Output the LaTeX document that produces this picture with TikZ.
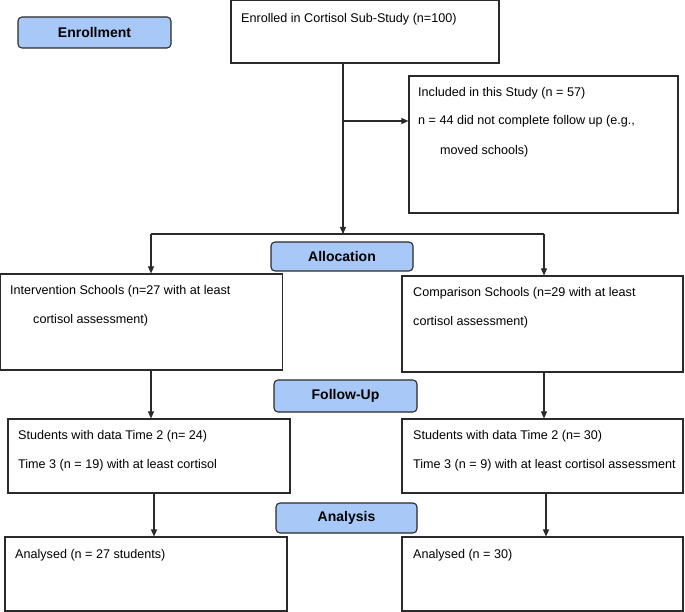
\documentclass[tikz,border=0pt]{standalone}
\usepackage{fontspec}
\setmainfont{Liberation Sans}
\usetikzlibrary{arrows.meta}
\definecolor{lblue}{HTML}{A8C8F8}
\definecolor{edge}{HTML}{2A2A2A}
\begin{document}
\begin{tikzpicture}[x=1pt,y=-1pt,
  box/.style={draw=edge,line width=1.1pt,rectangle,inner sep=0pt},
  stage/.style={draw=edge,line width=1.1pt,fill=lblue,rounded corners=4pt,inner sep=0pt,
     font=\fontsize{14}{16}\selectfont\bfseries},
  txt/.style={anchor=west,inner sep=0pt,font=\fontsize{12.6}{14}\selectfont,text height=9pt,text depth=2.5pt},
  arr/.style={draw=edge,line width=1.1pt,-{Triangle[length=7pt,width=6pt]}},
  ln/.style={draw=edge,line width=1.1pt}]
\useasboundingbox (0,0) rectangle (685,612);

% boxes
\node[box,minimum width=268pt,minimum height=63pt] (top) at (365,31.5) {};
\node[box,minimum width=269pt,minimum height=137pt] (right1) at (543.5,144.5) {};
\node[box,minimum width=282pt,minimum height=96pt] (left2) at (141.5,322) {};
\node[box,minimum width=281pt,minimum height=96pt] (right2) at (542.5,324) {};
\node[box,minimum width=282pt,minimum height=74pt] (left3) at (149,456) {};
\node[box,minimum width=281pt,minimum height=74pt] (right3) at (542.5,456) {};
\node[box,minimum width=282pt,minimum height=74pt] (left4) at (146,574) {};
\node[box,minimum width=281pt,minimum height=74pt] (right4) at (542.5,574) {};

% stage labels
\node[stage,minimum width=153pt,minimum height=31pt] (enroll) at (94.5,32.5) {Enrollment};
\node[stage,minimum width=142pt,minimum height=29pt] (alloc) at (342,256.5) {Allocation};
\node[stage,minimum width=143pt,minimum height=32pt] (follow) at (345.5,396) {Follow-Up};
\node[stage,minimum width=141pt,minimum height=30pt] (analysis) at (346.5,518) {Analysis};

% texts
\node[txt] (t1) at (241,19) {Enrolled in Cortisol Sub-Study (n=100)};
\node[txt] (t2) at (418,93) {Included in this Study (n = 57)};
\node[txt] (t3) at (418,121) {n = 44 did not complete follow up (e.g.,};
\node[txt] (t4) at (440,151) {moved schools)};
\node[txt] (t5) at (10,291) {Intervention Schools (n=27 with at least};
\node[txt] (t6) at (33,320) {cortisol assessment)};
\node[txt] (t7) at (413,293) {Comparison Schools (n=29 with at least};
\node[txt] (t8) at (413,322) {cortisol assessment)};
\node[txt] (t9) at (18,436) {Students with data Time 2 (n= 24)};
\node[txt] (t10) at (18,465) {Time 3 (n = 19) with at least cortisol};
\node[txt] (t11) at (413,436) {Students with data Time 2 (n= 30)};
\node[txt] (t12) at (413,465) {Time 3 (n = 9) with at least cortisol assessment};
\node[txt] (t13) at (15,555) {Analysed (n = 27 students)};
\node[txt] (t14) at (413,555) {Analysed (n = 30)};

% connector coordinates
\coordinate (split) at (343,234);
\coordinate (bl) at (151,234);
\coordinate (br) at (544,234);
\coordinate (side) at (343,121);
\coordinate (l2) at (151,0);
\coordinate (r2) at (544,0);
\coordinate (l3) at (154,0);
\coordinate (r3) at (546,0);

% connectors
\draw[arr] (top.south -| split) -- (split);
\draw[ln] (bl) -- (br);
\draw[arr] (side) -- (side -| right1.west);
\draw[arr] (bl) -- (bl |- left2.north);
\draw[arr] (br) -- (br |- right2.north);
\draw[arr] (left2.south -| l2) -- (left3.north -| l2);
\draw[arr] (right2.south -| r2) -- (right3.north -| r2);
\draw[arr] (left3.south -| l3) -- (left4.north -| l3);
\draw[arr] (right3.south -| r3) -- (right4.north -| r3);
\end{tikzpicture}
\end{document}
